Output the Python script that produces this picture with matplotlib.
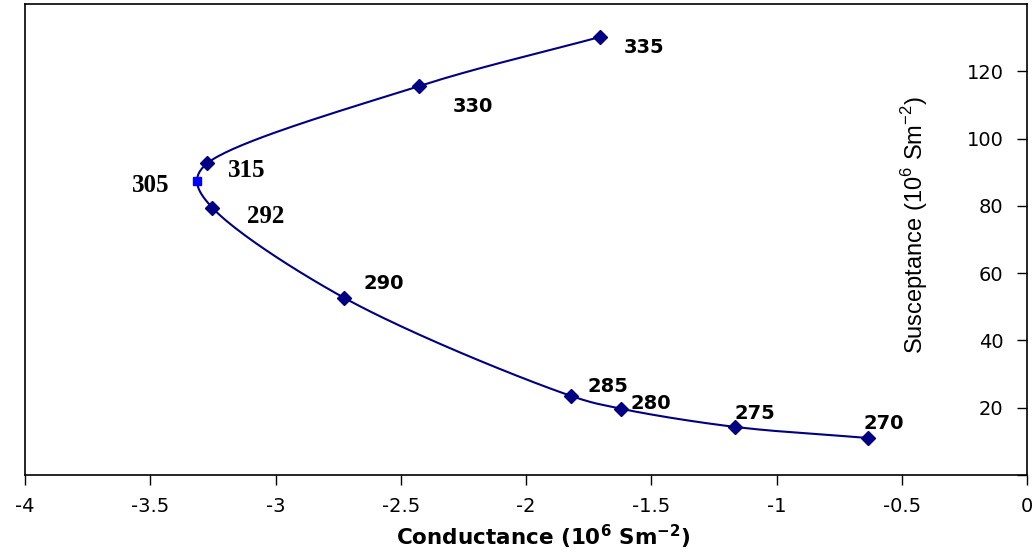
import numpy as np
import matplotlib
matplotlib.use("Agg")
import matplotlib.pyplot as plt

# temperature labels and admittance values
temps = ["270", "275", "280", "285", "290", "292", "305", "315", "330", "335"]
conductance = [-0.635, -1.166, -1.621, -1.820, -2.727, -3.253, -3.313, -3.273, -2.427, -1.705]
susceptance = [11.0, 14.3, 19.7, 23.5, 52.7, 79.5, 87.3, 92.6, 115.6, 130.2]

# label offsets in pixels (dx, dy) and which labels use the serif face
offsets = [(16, 14), (20, 13), (30, 5), (37, 9), (40, 14), (54, -9), (-46, -4), (40, -7), (54, -20), (44, -11)]
serif_labels = ["292", "305", "315"]

plt.rcParams["mathtext.fontset"] = "custom"
plt.rcParams["mathtext.rm"] = "Liberation Sans"
plt.rcParams["mathtext.bf"] = "DejaVu Sans:bold"


def smooth_curve(x, y, n=40, alpha=0.5):
    # centripetal Catmull-Rom through the points, in roughly screen-scaled space
    sx, sy = 250.0, 3.36
    p = np.column_stack([np.asarray(x) * sx, np.asarray(y) * sy])
    p = np.vstack([2 * p[0] - p[1], p, 2 * p[-1] - p[-2]])
    out = []
    for i in range(1, len(p) - 2):
        p0, p1, p2, p3 = p[i - 1], p[i], p[i + 1], p[i + 2]
        t0 = 0.0
        t1 = t0 + np.linalg.norm(p1 - p0) ** alpha
        t2 = t1 + np.linalg.norm(p2 - p1) ** alpha
        t3 = t2 + np.linalg.norm(p3 - p2) ** alpha
        t = np.linspace(t1, t2, n)[:, None]
        a1 = (t1 - t) / (t1 - t0) * p0 + (t - t0) / (t1 - t0) * p1
        a2 = (t2 - t) / (t2 - t1) * p1 + (t - t1) / (t2 - t1) * p2
        a3 = (t3 - t) / (t3 - t2) * p2 + (t - t2) / (t3 - t2) * p3
        b1 = (t2 - t) / (t2 - t0) * a1 + (t - t0) / (t2 - t0) * a2
        b2 = (t3 - t) / (t3 - t1) * a2 + (t - t1) / (t3 - t1) * a3
        c = (t2 - t) / (t2 - t1) * b1 + (t - t1) / (t2 - t1) * b2
        out.append(c)
    out = np.vstack(out)
    return out[:, 0] / sx, out[:, 1] / sy


fig = plt.figure(figsize=(10.36, 5.54), dpi=100)
ax = fig.add_axes([25 / 1036, 1 - 475 / 554, 1002 / 1036, 471 / 554])

cx, cy = smooth_curve(conductance, susceptance)
ax.plot(cx, cy, color="#000080", lw=1.5, zorder=2)

mask = [t != "305" for t in temps]
ax.plot(np.array(conductance)[mask], np.array(susceptance)[mask], ls="none", marker="D",
        ms=7, color="#000080", zorder=3)
i305 = temps.index("305")
ax.plot(conductance[i305], susceptance[i305], ls="none", marker="s", ms=6,
        color="#0000FF", zorder=3)

for t, x, y, (dx, dy) in zip(temps, conductance, susceptance, offsets):
    if t in serif_labels:
        fam = "Liberation Serif"
        fs = 18
    else:
        fam = "DejaVu Sans"
        fs = 14
    ax.annotate(t, (x, y), xytext=(dx, dy), textcoords="offset pixels",
                ha="center", va="center", fontsize=fs, fontweight="bold",
                family=fam, color="black")

ax.set_xlim(-4, 0)
ax.set_ylim(0, 140)
ax.set_xticks(np.arange(-4, 0.01, 0.5))
ax.set_xticklabels(["-4", "-3.5", "-3", "-2.5", "-2", "-1.5", "-1", "-0.5", "0"],
                   family="DejaVu Sans", fontsize=14)
ax.tick_params(axis="x", direction="out", length=7, width=1, pad=9)

ax.set_yticks(np.arange(0, 121, 20))
ax.set_yticklabels([""] + [str(v) for v in range(20, 121, 20)],
                   family="DejaVu Sans", fontsize=14)
ax.yaxis.tick_right()
ax.tick_params(axis="y", direction="in", length=7, width=1, pad=-17)
for lab in ax.get_yticklabels():
    lab.set_horizontalalignment("right")

for s in ax.spines.values():
    s.set_linewidth(1.2)

ax.text(0.888, 0.531, "Susceptance (10$^{6}$ Sm$^{-2}$)", transform=ax.transAxes,
        rotation=90, ha="center", va="center", fontsize=17, family="Liberation Sans")
fig.text(543 / 1036, 1 - 537 / 554, r"Conductance (10$^{\mathbf{6}}$ Sm$^{\mathbf{-2}}$)",
         ha="center", va="center", fontsize=15.5, fontweight="bold", family="DejaVu Sans")

fig.savefig("out.png", dpi=100)
plt.close(fig)
